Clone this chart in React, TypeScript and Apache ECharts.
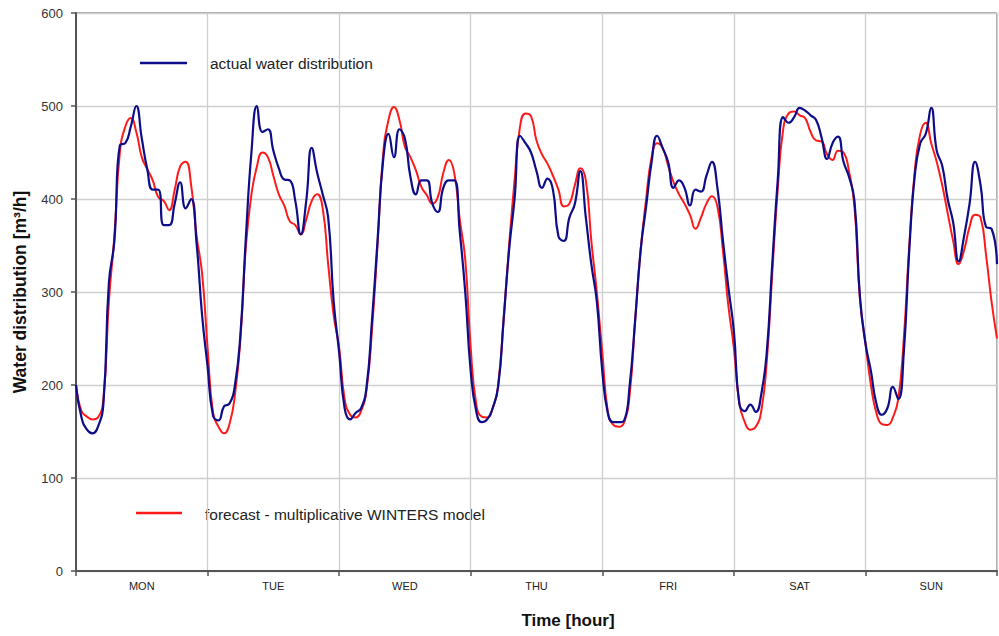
import React, { useEffect, useRef } from "react";
import * as echarts from "echarts";

const days = ["MON", "TUE", "WED", "THU", "FRI", "SAT", "SUN"];
const yTicks = [0, 100, 200, 300, 400, 500, 600];

// actual water distribution, hourly values per day [m3/h]
const actualMon = [200, 165, 152, 148, 155, 180, 310, 355, 458, 460, 478, 500, 465, 432, 410, 410, 372, 372, 395, 418, 390, 400, 352, 275];
const actualTue = [220, 167, 162, 177, 180, 200, 255, 360, 450, 500, 472, 475, 452, 433, 421, 420, 398, 362, 398, 455, 428, 405, 380, 290];
const actualWed = [235, 175, 163, 170, 175, 198, 270, 355, 440, 470, 445, 475, 465, 424, 405, 420, 420, 395, 386, 412, 420, 420, 365, 300];
const actualThu = [215, 172, 160, 163, 175, 198, 270, 345, 400, 468, 460, 450, 430, 412, 422, 410, 360, 355, 380, 395, 430, 380, 330, 290];
const actualFri = [215, 170, 160, 160, 162, 200, 270, 345, 392, 440, 468, 455, 440, 412, 420, 412, 393, 410, 408, 425, 440, 412, 356, 305];
const actualSat = [258, 180, 172, 179, 171, 190, 235, 330, 420, 488, 482, 488, 498, 495, 490, 485, 466, 443, 460, 467, 440, 424, 398, 295];
const actualSun = [245, 215, 180, 168, 175, 198, 185, 235, 345, 425, 460, 470, 498, 452, 436, 400, 375, 333, 360, 395, 440, 415, 370, 368, 330];

// forecast - multiplicative Winters model
const forecastMon = [200, 172, 166, 163, 165, 185, 290, 360, 450, 478, 487, 472, 445, 432, 420, 402, 398, 388, 410, 435, 440, 415, 360, 320];
const forecastTue = [240, 170, 155, 148, 158, 190, 250, 350, 405, 435, 450, 445, 425, 405, 393, 376, 372, 362, 378, 398, 405, 390, 330, 275];
const forecastWed = [240, 185, 168, 165, 172, 195, 260, 350, 446, 485, 499, 485, 456, 445, 431, 413, 404, 395, 402, 428, 442, 428, 378, 335];
const forecastThu = [240, 180, 166, 165, 175, 200, 270, 350, 420, 478, 492, 489, 463, 448, 438, 425, 410, 392, 395, 415, 433, 420, 355, 300];
const forecastFri = [235, 172, 157, 155, 160, 190, 270, 345, 400, 445, 460, 455, 436, 418, 405, 395, 383, 368, 380, 395, 403, 392, 345, 285];
const forecastSat = [240, 180, 160, 152, 155, 172, 225, 320, 410, 475, 492, 494, 490, 487, 472, 463, 462, 448, 442, 452, 450, 430, 392, 292];
const forecastSun = [245, 200, 170, 158, 157, 165, 185, 250, 350, 430, 470, 482, 460, 440, 415, 385, 355, 330, 345, 370, 383, 380, 340, 290, 250];

const actual = [...actualMon, ...actualTue, ...actualWed, ...actualThu, ...actualFri, ...actualSat, ...actualSun];
const forecast = [...forecastMon, ...forecastTue, ...forecastWed, ...forecastThu, ...forecastFri, ...forecastSat, ...forecastSun];

const FONT = "Liberation Sans, Arial, sans-serif";

export default function App() {
  const ref = useRef<HTMLDivElement>(null);
  useEffect(() => {
    if (!ref.current) return;
    const chart = echarts.init(ref.current, undefined, { renderer: "svg" });
    chart.setOption({
      animation: false,
      backgroundColor: "#ffffff",
      textStyle: { fontFamily: FONT },
      grid: {
        left: 76,
        right: 2,
        top: 13,
        bottom: 65,
        show: true,
        borderColor: "#555",
        borderWidth: 1,
      },
      xAxis: [
        {
          type: "value",
          min: 0,
          max: 168,
          interval: 24,
          axisLine: { show: true, lineStyle: { color: "#555", width: 2 } },
          axisTick: { show: true, length: 5, lineStyle: { color: "#555", width: 1.5 } },
          axisLabel: { show: false },
          splitLine: { show: true, lineStyle: { color: "#cfcfcf", width: 1.3 } },
        },
        {
          type: "category",
          data: days,
          boundaryGap: true,
          position: "bottom",
          axisLine: { show: false },
          axisTick: { show: false },
          splitLine: { show: false },
          axisLabel: { fontFamily: FONT, fontSize: 11, color: "#222", margin: 9 },
        },
      ],
      yAxis: {
        type: "value",
        min: 0,
        max: 600,
        interval: 100,
        axisLine: { show: true, lineStyle: { color: "#555", width: 2 } },
        axisTick: { show: true, length: 5, lineStyle: { color: "#555", width: 1.5 } },
        axisLabel: {
          fontFamily: FONT,
          fontSize: 13,
          color: "#333",
          margin: 13,
          formatter: (v: number) => (yTicks.includes(v) ? String(v) : ""),
        },
        splitLine: { show: true, lineStyle: { color: "#cfcfcf", width: 1.3 } },
        name: "Water distribution [m³/h]",
        nameLocation: "middle",
        nameGap: 47,
        nameTextStyle: { fontFamily: FONT, fontSize: 17.5, fontWeight: "bold", color: "#111" },
      },
      series: [
        {
          name: "forecast - multiplicative WINTERS model",
          type: "line",
          xAxisIndex: 0,
          data: forecast.map((v, i) => [i, v]),
          smooth: 0.5,
          symbol: "none",
          lineStyle: { color: "#ff1a1a", width: 2 },
          z: 2,
        },
        {
          name: "actual water distribution",
          type: "line",
          xAxisIndex: 0,
          data: actual.map((v, i) => [i, v]),
          smooth: 0.5,
          symbol: "none",
          lineStyle: { color: "#0d0d8a", width: 2.2 },
          z: 3,
        },
      ],
      graphic: [
        {
          type: "line",
          shape: { x1: 140, y1: 63, x2: 187, y2: 63 },
          style: { stroke: "#0d0d8a", lineWidth: 2.5 },
        },
        {
          type: "text",
          x: 210,
          y: 63,
          style: {
            text: "actual water distribution",
            font: `15.5px ${FONT}`,
            fill: "#222",
            verticalAlign: "middle",
          },
        },
        {
          type: "line",
          shape: { x1: 136, y1: 513, x2: 182, y2: 513 },
          style: { stroke: "#ff1a1a", lineWidth: 2.5 },
        },
        {
          type: "text",
          x: 205,
          y: 514,
          style: {
            text: "forecast - multiplicative WINTERS model",
            font: `15.5px ${FONT}`,
            fill: "#222",
            verticalAlign: "middle",
          },
        },
        {
          type: "text",
          x: 568,
          y: 620,
          style: {
            text: "Time [hour]",
            font: `bold 17px ${FONT}`,
            fill: "#111",
            align: "center",
            verticalAlign: "middle",
          },
        },
      ],
    });
    return () => chart.dispose();
  }, []);
  return <div ref={ref} style={{ width: 999, height: 636, position: "absolute", left: 0, top: 0 }} />;
}
